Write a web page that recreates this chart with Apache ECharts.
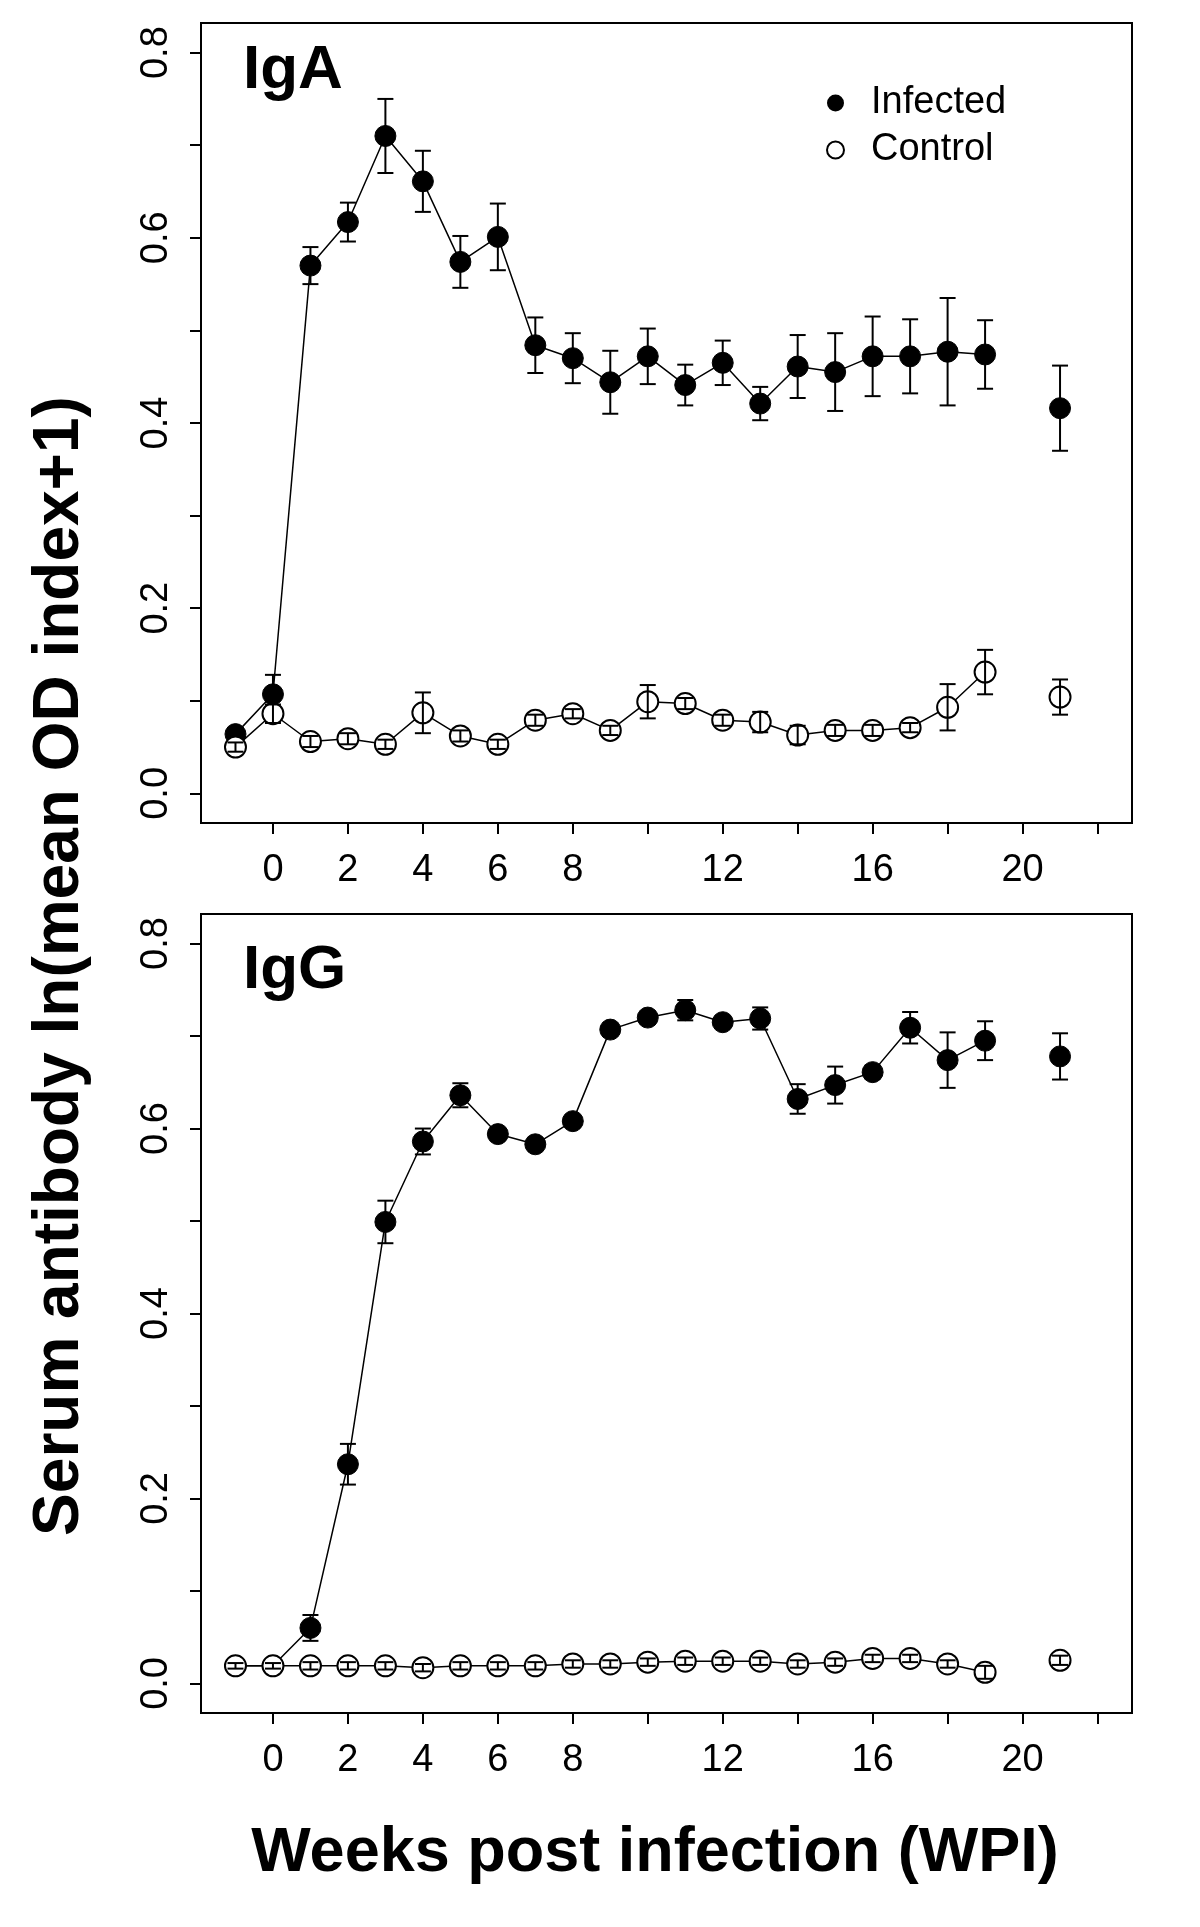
<!DOCTYPE html>
<html>
<head>
<meta charset="utf-8">
<script src="https://cdn.jsdelivr.net/npm/echarts@6/dist/echarts.min.js"></script>
<style>
html,body{margin:0;padding:0;background:#fff;}
#chart{width:1200px;height:1927px;}
</style>
</head>
<body>
<div id="chart"></div>
<script>
// ---- data ----
const weeks = [-1,0,1,2,3,4,5,6,7,8,9,10,11,12,13,14,15,16,17,18,19,20,21];

const igaInfectedMean = [0.064,0.107,0.570,0.617,0.710,0.661,0.574,0.601,0.484,0.470,0.444,0.472,0.441,0.465,0.421,0.461,0.455,0.472,0.472,0.477,0.474,null,0.416];
const igaInfectedSE   = [0.006,0.021,0.020,0.021,0.040,0.033,0.028,0.036,0.030,0.027,0.034,0.030,0.022,0.024,0.018,0.034,0.042,0.043,0.040,0.058,0.037,null,0.046];
const igaControlMean  = [0.050,0.086,0.056,0.059,0.053,0.087,0.062,0.053,0.079,0.086,0.068,0.099,0.097,0.079,0.077,0.063,0.068,0.068,0.071,0.093,0.131,null,0.104];
const igaControlSE    = [0.005,0.010,0.006,0.006,0.005,0.022,0.006,0.005,0.006,0.005,0.005,0.018,0.006,0.006,0.011,0.010,0.006,0.006,0.005,0.025,0.024,null,0.019];

const iggInfectedMean = [0.019,0.019,0.060,0.237,0.499,0.586,0.636,0.594,0.583,0.608,0.707,0.720,0.728,0.715,0.719,0.632,0.647,0.661,0.709,0.674,0.695,null,0.678];
const iggInfectedSE   = [0.003,0.003,0.014,0.022,0.023,0.014,0.013,0.006,0.005,0.006,0.005,0.006,0.011,0.006,0.012,0.016,0.020,0.007,0.017,0.030,0.021,null,0.025];
const iggControlMean  = [0.019,0.019,0.019,0.019,0.019,0.017,0.019,0.019,0.019,0.021,0.021,0.023,0.024,0.024,0.024,0.021,0.023,0.027,0.027,0.021,0.012,null,0.025];
const iggControlSE    = [0.003,0.003,0.004,0.004,0.004,0.004,0.004,0.004,0.004,0.004,0.004,0.004,0.004,0.004,0.004,0.004,0.004,0.004,0.004,0.004,0.007,null,0.005];

const xTickValues  = [0,2,4,6,8,10,12,14,16,18,20,22];
const xLabelValues = [0,2,4,6,8,12,16,20];
const yTickValues  = [0,0.1,0.2,0.3,0.4,0.5,0.6,0.7,0.8];
const yLabelValues = [0,0.2,0.4,0.6,0.8];

const panelNames = ['IgA','IgG'];
const seriesNames = ['Infected','Control'];
const yTitle = 'Serum antibody ln(mean OD index+1)';
const xTitle = 'Weeks post infection (WPI)';

// ---- helpers ----
const FONT = 'Liberation Sans, Arial, Helvetica, sans-serif';
function pts(mean){ return weeks.map((w,i)=>[w, mean[i]===null ? '-' : mean[i]]); }
function errs(mean,se){
  const out=[];
  weeks.forEach((w,i)=>{ if(mean[i]!==null) out.push([w, mean[i]-se[i], mean[i]+se[i]]); });
  return out;
}
function errRender(params, api){
  const x = api.value(0), lo = api.value(1), hi = api.value(2);
  const a = api.coord([x, lo]), b = api.coord([x, hi]);
  const hw = 8;
  const st = {stroke:'#000', lineWidth:2, fill:null};
  return {type:'group', children:[
    {type:'line', shape:{x1:a[0],y1:a[1],x2:b[0],y2:b[1]}, style:st},
    {type:'line', shape:{x1:a[0]-hw,y1:a[1],x2:a[0]+hw,y2:a[1]}, style:st},
    {type:'line', shape:{x1:b[0]-hw,y1:b[1],x2:b[0]+hw,y2:b[1]}, style:st}
  ]};
}

const grids = [
  {left:201, top:23, width:931, height:800},
  {left:201, top:914, width:931, height:799}
];

function xAxisFor(i){
  return {
    type:'value', gridIndex:i, min:-1.92, max:22.92, position:'bottom',
    axisLine:{show:false, onZero:false},
    splitLine:{show:false},
    axisTick:{show:true, length:11, inside:false, customValues:xTickValues, lineStyle:{color:'#000', width:2}},
    axisLabel:{show:true, customValues:xLabelValues, margin:29, color:'#000', fontSize:38, fontFamily:FONT}
  };
}
function yAxisFor(i){
  return {
    type:'value', gridIndex:i, min:-0.032, max:0.832, position:'left',
    axisLine:{show:false, onZero:false},
    splitLine:{show:false},
    axisTick:{show:true, length:11, inside:false, customValues:yTickValues, lineStyle:{color:'#000', width:2}},
    axisLabel:{show:true, customValues:yLabelValues, rotate:90, margin:25, color:'#000', fontSize:38, fontFamily:FONT,
      formatter:v=>Number(v).toFixed(1)}
  };
}

const panels = [
  {inf:igaInfectedMean, infSE:igaInfectedSE, ctl:igaControlMean, ctlSE:igaControlSE},
  {inf:iggInfectedMean, infSE:iggInfectedSE, ctl:iggControlMean, ctlSE:iggControlSE}
];

const series = [];
panels.forEach((p,i)=>{
  series.push({
    name:seriesNames[0], type:'line', xAxisIndex:i, yAxisIndex:i, data:pts(p.inf),
    symbol:'circle', symbolSize:21, connectNulls:false, z:2,
    lineStyle:{color:'#000', width:1.5},
    itemStyle:{color:'#000', borderColor:'#000', borderWidth:1},
    emphasis:{disabled:true}
  });
  series.push({
    name:'InfectedErr', type:'custom', xAxisIndex:i, yAxisIndex:i, data:errs(p.inf,p.infSE),
    renderItem:errRender, encode:{x:0, y:[1,2]}, z:3, silent:true
  });
  series.push({
    name:seriesNames[1], type:'line', xAxisIndex:i, yAxisIndex:i, data:pts(p.ctl),
    symbol:'circle', symbolSize:21, connectNulls:false, z:4,
    lineStyle:{color:'#000', width:1.5},
    itemStyle:{color:'#fff', borderColor:'#000', borderWidth:2},
    emphasis:{disabled:true}
  });
  series.push({
    name:'ControlErr', type:'custom', xAxisIndex:i, yAxisIndex:i, data:errs(p.ctl,p.ctlSE),
    renderItem:errRender, encode:{x:0, y:[1,2]}, z:5, silent:true
  });
});

const chart = echarts.init(document.getElementById('chart'), null, {renderer:'canvas'});
chart.setOption({
  animation:false,
  backgroundColor:'#fff',
  grid: grids.map(g=>Object.assign({show:true, borderColor:'#000', borderWidth:2, backgroundColor:'transparent', containLabel:false}, g)),
  xAxis:[xAxisFor(0), xAxisFor(1)],
  yAxis:[yAxisFor(0), yAxisFor(1)],
  title:[
    {text:panelNames[0], left:243, top:40, padding:0, textStyle:{fontSize:62, fontWeight:'bold', fontFamily:FONT, color:'#000'}},
    {text:panelNames[1], left:243, top:940, padding:0, textStyle:{fontSize:62, fontWeight:'bold', fontFamily:FONT, color:'#000'}}
  ],
  legend:{
    show:true, orient:'vertical', left:826, top:84, padding:0,
    itemWidth:17, itemHeight:17, itemGap:9, selectedMode:false,
    textStyle:{fontSize:38, fontFamily:FONT, color:'#000', lineHeight:38, padding:[0,0,0,22]},
    data:[
      {name:seriesNames[0], icon:'circle', itemStyle:{color:'#000', borderColor:'#000', borderWidth:0}},
      {name:seriesNames[1], icon:'circle', itemStyle:{color:'#fff', borderColor:'#000', borderWidth:2}}
    ]
  },
  graphic:[
    {type:'text', x:60, y:966, rotation:Math.PI/2,
      style:{text:yTitle, font:'bold 64px '+FONT, fill:'#000', textAlign:'center', textVerticalAlign:'middle', align:'center', verticalAlign:'middle'}},
    {type:'text', x:655, y:1854,
      style:{text:xTitle, font:'bold 63px '+FONT, fill:'#000', textAlign:'center', textVerticalAlign:'middle', align:'center', verticalAlign:'middle'}}
  ],
  series:series
});
</script>
</body>
</html>
